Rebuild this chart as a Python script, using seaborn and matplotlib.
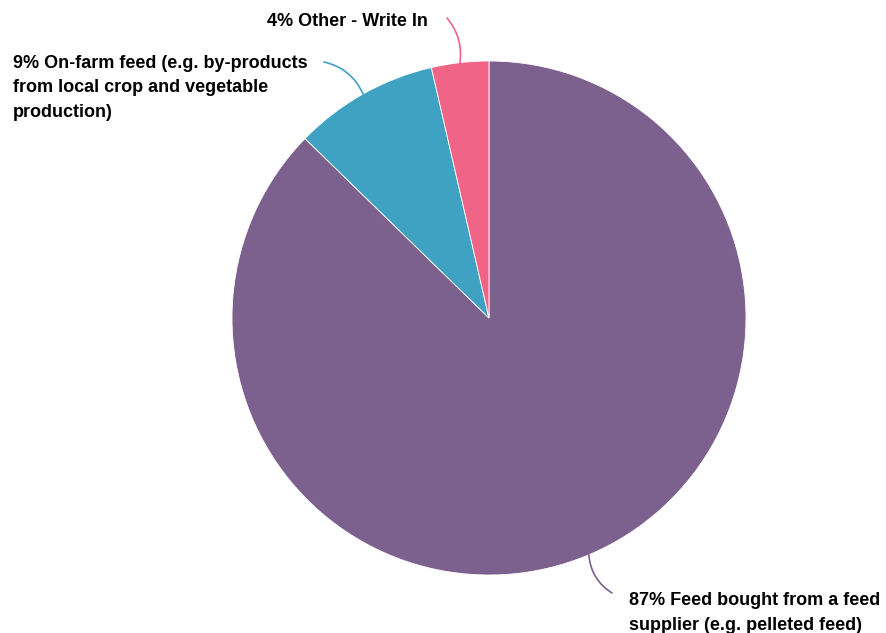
import numpy as np
import seaborn as sns
import matplotlib.pyplot as plt

# Survey answers (percent of respondents)
labels = [
    "87% Feed bought from a feed\nsupplier (e.g. pelleted feed)",
    "9% On-farm feed (e.g. by-products\nfrom local crop and vegetable\nproduction)",
    "4% Other - Write In",
]
shares = [87.3, 9.1, 3.6]
colors = ["#7C608E", "#40A2C2", "#F06487"]

# label text anchors (pixels from top-left) and curve bend
text_pos = [(629, 613), (13, 88), (267, 22)]
text_ends = [(612, 593), (324, 62), (447, 18)]
bends = [0.25, 0.25, 0.22]

sns.set_theme(style="white")
plt.rcParams["font.family"] = ["Liberation Sans", "DejaVu Sans"]

W, H = 886, 633
fig = plt.figure(figsize=(W / 100, H / 100), dpi=100)
ax = fig.add_axes([0, 0, 1, 1])

cx, cy, r = 489, H - 318, 257
wedges, _ = ax.pie(shares, colors=colors, startangle=90, counterclock=False,
                   center=(cx, cy), radius=r, frame=True,
                   wedgeprops=dict(edgecolor="white", linewidth=0.6))
ax.set_xlim(0, W)
ax.set_ylim(0, H)
ax.set_aspect("equal")
ax.axis("off")

for w, lab, col, tp, te, b in zip(wedges, labels, colors, text_pos, text_ends, bends):
    mid = np.deg2rad((w.theta1 + w.theta2) / 2)
    px, py = cx + r * np.cos(mid), cy + r * np.sin(mid)
    ax.annotate("", xy=(te[0], H - te[1]), xytext=(px, py),
                arrowprops=dict(arrowstyle="-", color=col, lw=1.2,
                                connectionstyle=f"arc3,rad={b}",
                                shrinkA=0, shrinkB=0))
    ax.text(tp[0], H - tp[1], lab, ha="left", va="center", fontsize=13,
            fontweight="bold", color="#000000", linespacing=1.6)

fig.savefig("out.png", dpi=100)
